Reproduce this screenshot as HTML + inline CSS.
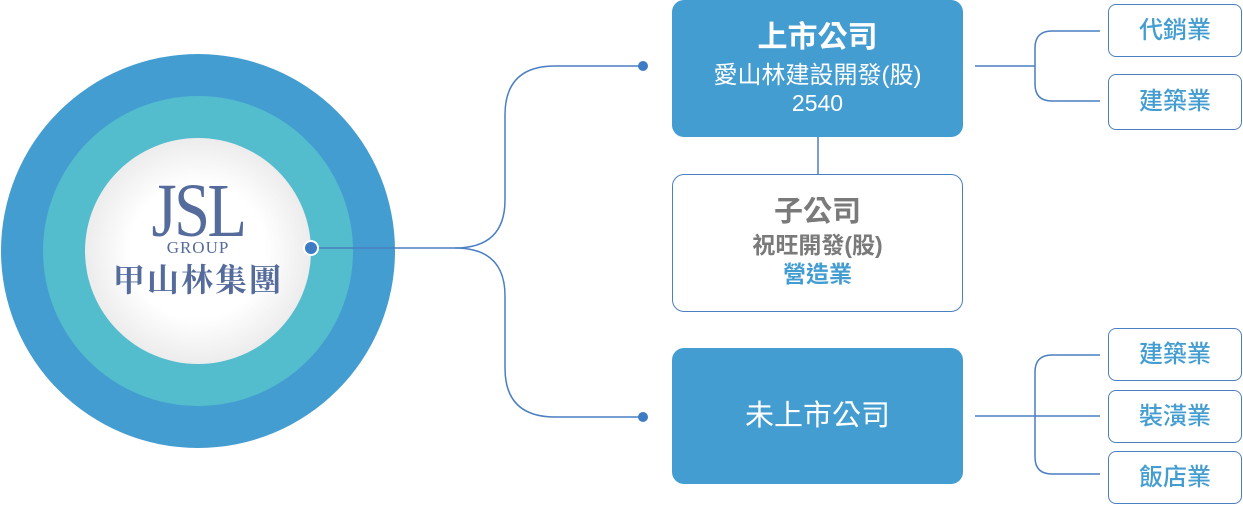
<!DOCTYPE html>
<html><head><meta charset="utf-8"><style>
body{margin:0;width:1243px;height:505px;background:#fff;overflow:hidden;position:relative;font-family:"Liberation Sans","Noto Sans CJK TC",sans-serif}
.b{position:absolute;box-sizing:border-box;border-radius:12px;text-align:center}
.f{background:#449dd1;color:#fff}
.o{border:1.5px solid #4a7fc1;background:#fff}
.s{position:absolute;left:1108px;width:134px;box-sizing:border-box;border:1.5px solid #4a7fc1;border-radius:8px;color:#449dd1;font-size:24px;text-align:center;font-weight:500}
</style></head><body>
<svg width="1243" height="505" style="position:absolute;left:0;top:0">
<defs><radialGradient id="g"><stop offset="0.6" stop-color="#fff"/><stop offset="1" stop-color="#ececec"/></radialGradient></defs>
<circle cx="198" cy="251" r="197" fill="#449dd1"/>
<circle cx="198" cy="251" r="155" fill="#53bccd"/>
<circle cx="198" cy="251" r="113" fill="url(#g)"/>
<g fill="none" stroke="#4a7fc1" stroke-width="1.5">
<path d="M311 248 H455 Q505 248 505 200 V115 Q505 66 555 66 H643"/>
<path d="M455 248 Q505 248 505 296 V368 Q505 417 555 417 H643"/>
<path d="M818 137 V174"/>
<path d="M975 66 H1035 M1100 31 H1052 Q1035 31 1035 48 V84 Q1035 101 1052 101 H1100"/>
<path d="M975 416 H1100 M1100 355 H1052 Q1035 355 1035 372 V457 Q1035 474 1052 474 H1100"/>
</g>
<circle cx="311" cy="248" r="8" fill="#fff"/><circle cx="311" cy="248" r="6" fill="#3d7cc4"/>
<circle cx="643" cy="66" r="5" fill="#3d7cc4"/><circle cx="643" cy="417" r="5" fill="#3d7cc4"/>
</svg>
<div style="position:absolute;left:85px;top:176px;width:226px;text-align:center;color:#546b9c;font-family:'Liberation Serif',serif;font-size:76px;line-height:70px;letter-spacing:-3px;transform:scaleX(0.85)">JSL</div>
<div style="position:absolute;left:85px;top:240px;width:226px;text-align:center;color:#546b9c;font-family:'Liberation Serif',serif;font-size:17px;line-height:16px;letter-spacing:1px">GROUP</div>
<div style="position:absolute;left:85px;top:258px;width:226px;text-align:center;color:#546b9c;font-family:'Liberation Serif','Noto Serif CJK SC',serif;font-size:32px;line-height:44px;font-weight:bold;letter-spacing:2px">甲山林集團</div>
<div class="b f" style="left:672px;top:0;width:291px;height:137px;padding-top:19px">
<div style="font-size:30px;font-weight:bold;line-height:38px">上市公司</div>
<div style="font-size:24px;line-height:30px;margin-top:4px">愛山林建設開發(股)</div>
<div style="font-size:23px;line-height:24px">2540</div></div>
<div class="b o" style="left:672px;top:174px;width:291px;height:138px;padding-top:19px">
<div style="font-size:29px;font-weight:bold;line-height:36px;color:#7a7a7a">子公司</div>
<div style="font-size:23px;font-weight:bold;line-height:30px;color:#7a7a7a">祝旺開發(股)</div>
<div style="font-size:23px;font-weight:bold;line-height:28px;color:#449dd1">營造業</div></div>
<div class="b f" style="left:672px;top:348px;width:291px;height:136px;line-height:136px;font-size:29px">未上市公司</div>
<div class="s" style="top:4px;height:53px;line-height:51px">代銷業</div>
<div class="s" style="top:74px;height:56px;line-height:54px">建築業</div>
<div class="s" style="top:328px;height:53px;line-height:51px">建築業</div>
<div class="s" style="top:390px;height:53px;line-height:51px">裝潢業</div>
<div class="s" style="top:451px;height:53px;line-height:51px">飯店業</div>
</body></html>
